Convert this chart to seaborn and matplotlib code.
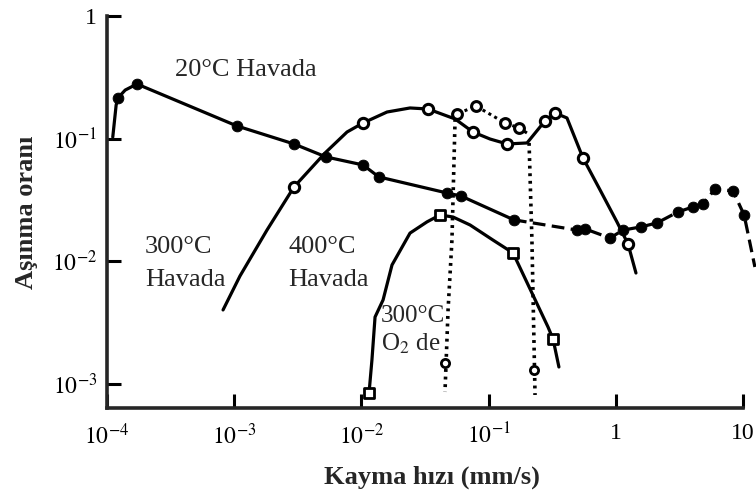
import numpy as np
import matplotlib
matplotlib.use("Agg")
import matplotlib.pyplot as plt
import seaborn as sns

# sliding speed (mm/s) and wear rate
# 20°C in air, filled circles
speed_20 = [1.11e-4, 1.18e-4, 1.22e-4, 1.39e-4, 1.72e-4, 1.05e-3, 2.95e-3, 5.27e-3,
            1.03e-2, 1.37e-2, 4.71e-2, 6.07e-2, 0.158, 0.495, 0.573, 0.90, 1.14,
            1.58, 2.11, 3.08, 4.05, 4.85, 6.03, 8.34, 10.2, 12.4]
wear_20 = [0.103, 0.188, 0.215, 0.249, 0.279, 0.127, 0.0906, 0.0710, 0.0611, 0.0488,
           0.0361, 0.0341, 0.0218, 0.0180, 0.0184, 0.0155, 0.0180, 0.0191, 0.0206,
           0.0253, 0.0278, 0.0294, 0.0389, 0.0375, 0.0239, 0.0090]
marks_20 = [2, 4, 5, 6, 7, 8, 9, 10, 11, 12, 13, 14, 15, 16, 17, 18, 19, 20, 21, 22, 23, 24]
dash_from_20 = 12

# 300/400°C in air, open circles
speed_air = [8.17e-4, 1.11e-3, 1.81e-3, 2.95e-3, 5.18e-3, 7.71e-3, 1.03e-2, 1.59e-2,
             2.41e-2, 3.34e-2, 5.45e-2, 7.53e-2, 0.1026, 0.1397, 0.2005, 0.277, 0.333,
             0.413, 0.552, 0.752, 1.02, 1.247, 1.44]
wear_air = [0.00402, 0.0076, 0.0180, 0.0404, 0.0765, 0.1134, 0.1343, 0.165, 0.178,
            0.1746, 0.1448, 0.1134, 0.0994, 0.0906, 0.0923, 0.1394, 0.162, 0.1475,
            0.0696, 0.0382, 0.0210, 0.01387, 0.00804]
marks_air = [3, 6, 9, 11, 13, 15, 16, 18, 21]

# upper dotted branch, open circles
speed_branch = [5.45e-2, 5.65e-2, 7.96e-2, 0.1346, 0.1734, 0.2005]
wear_branch = [0.1448, 0.159, 0.1846, 0.1343, 0.1223, 0.1112]
marks_branch = [1, 2, 3, 4]

# 300°C in O2, open squares
speed_o2 = [1.148e-2, 1.21e-2, 1.28e-2, 1.48e-2, 1.74e-2, 2.41e-2, 3.28e-2, 4.15e-2,
            5.25e-2, 7.15e-2, 0.108, 0.1556, 0.293, 0.321, 0.357]
wear_o2 = [8.46e-4, 1.572e-3, 3.52e-3, 4.85e-3, 9.35e-3, 1.70e-2, 2.10e-2, 2.39e-2,
           2.30e-2, 1.98e-2, 1.494e-2, 1.171e-2, 2.92e-3, 2.33e-3, 1.378e-3]
marks_o2 = [0, 7, 11, 13]

# dotted transition lines
speed_v1 = [5.45e-2, 5.15e-2, 4.80e-2, 4.54e-2]
wear_v1 = [0.1448, 0.01494, 0.00402, 8.62e-4]
speed_v2 = [0.208, 0.219, 0.2317]
wear_v2 = [0.0923, 0.01494, 8.15e-4]
speed_vmark = [4.55e-2, 0.226]
wear_vmark = [1.486e-3, 1.303e-3]

xticks = [1e-4, 1e-3, 1e-2, 1e-1, 1, 10]
xtick_labels = ["$10^{-4}$", "$10^{-3}$", "$10^{-2}$", "$10^{-1}$", "1", "10"]
yticks = [1e-3, 1e-2, 1e-1, 1]
ytick_labels = ["$10^{-3}$", "$10^{-2}$", "$10^{-1}$", "1"]

sns.set_style("ticks")
plt.rcParams["font.family"] = ["Liberation Serif", "DejaVu Serif"]
plt.rcParams["mathtext.fontset"] = "stix"

fig = plt.figure(figsize=(7.56, 4.99), dpi=100)
ax = fig.add_axes([107 / 756, 1 - 408 / 499, 649 / 756, 392 / 499])
ax.set_xscale("log")
ax.set_yscale("log")

lw = 2.3
k = "black"

# 20°C line: solid then dashed
sns.lineplot(x=speed_20[:dash_from_20 + 1], y=wear_20[:dash_from_20 + 1], sort=False,
             estimator=None, color=k, lw=lw, ax=ax)
sns.lineplot(x=speed_20[dash_from_20:], y=wear_20[dash_from_20:], sort=False,
             estimator=None, color=k, lw=lw, ax=ax, linestyle=(0, (4, 2)))
sns.scatterplot(x=[speed_20[i] for i in marks_20], y=[wear_20[i] for i in marks_20],
                color=k, s=60, edgecolor=k, ax=ax, zorder=5, clip_on=False)

sns.lineplot(x=speed_air, y=wear_air, sort=False, estimator=None, color=k, lw=lw, ax=ax)
sns.scatterplot(x=[speed_air[i] for i in marks_air], y=[wear_air[i] for i in marks_air],
                color="white", s=55, edgecolor=k, linewidth=2.2, ax=ax, zorder=5)

sns.lineplot(x=speed_branch, y=wear_branch, sort=False, estimator=None, color=k,
             lw=2.2, linestyle=(0, (1, 1.2)), ax=ax)
sns.scatterplot(x=[speed_branch[i] for i in marks_branch],
                y=[wear_branch[i] for i in marks_branch],
                color="white", s=50, edgecolor=k, linewidth=2.2, ax=ax, zorder=5)

sns.lineplot(x=speed_o2, y=wear_o2, sort=False, estimator=None, color=k, lw=lw, ax=ax)
sns.scatterplot(x=[speed_o2[i] for i in marks_o2], y=[wear_o2[i] for i in marks_o2],
                color="white", s=45, marker="s", edgecolor=k, linewidth=2, ax=ax, zorder=5)

for sx, wy in [(speed_v1, wear_v1), (speed_v2, wear_v2)]:
    sns.lineplot(x=sx, y=wy, sort=False, estimator=None, color=k, lw=2.6,
                 linestyle=(0, (0.8, 1.3)), ax=ax)
sns.scatterplot(x=speed_vmark, y=wear_vmark, color="white", s=35, edgecolor=k,
                linewidth=2, ax=ax, zorder=5)

# axes styling
ax.set_xlim(1e-4, 10 ** 1.102)
ax.set_ylim(10 ** -3.195, 1)
ax.spines["top"].set_visible(False)
ax.spines["right"].set_visible(False)
ax.spines["left"].set_linewidth(2.6)
ax.spines["bottom"].set_linewidth(2.6)
ax.spines["bottom"].set_bounds(1e-4, 10)
ax.set_xticks(xticks)
ax.set_xticklabels(xtick_labels)
ax.set_yticks(yticks)
ax.set_yticklabels(ytick_labels)
ax.minorticks_off()
ax.tick_params(direction="in", length=10, width=2.2, labelsize=17, colors=k)
ax.tick_params(axis="x", pad=11)
ax.tick_params(axis="y", pad=7)

ax.set_xlabel("Kayma hızı (mm/s)", fontsize=19, fontweight="bold", labelpad=12)
ax.set_ylabel("Aşınma oranı", fontsize=19, fontweight="bold", labelpad=10)

fs = 19
ax.text(3.43e-4, 0.363, "20°C Havada", fontsize=fs, va="center")
ax.text(1.99e-4, 0.0131, "300°C", fontsize=fs, va="center")
ax.text(1.99e-4, 0.00705, "Havada", fontsize=fs, va="center")
ax.text(2.65e-3, 0.0131, "400°C", fontsize=fs, va="center")
ax.text(2.65e-3, 0.00705, "Havada", fontsize=fs, va="center")
ax.text(1.43e-2, 3.59e-3, "300°C", fontsize=18, va="center")
ax.text(1.43e-2, 2.12e-3, "O$_2$ de", fontsize=18, va="center")

fig.savefig("out.png", dpi=100)
